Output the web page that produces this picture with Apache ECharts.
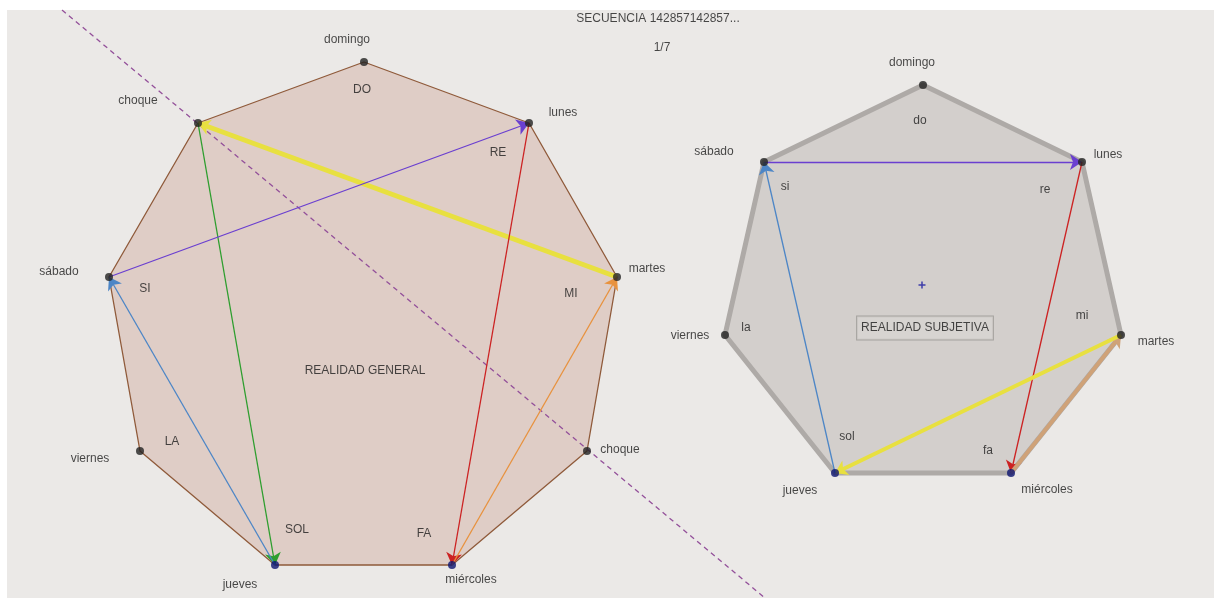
<!DOCTYPE html>
<html>
<head>
<meta charset="utf-8">
<script src="https://cdn.jsdelivr.net/npm/echarts@6/dist/echarts.min.js"></script>
<style>
html,body{margin:0;padding:0;background:#ffffff;}
#c{width:1214px;height:598px;}
</style>
</head>
<body>
<div id="c"></div>
<script>
// ---- Data (diagram coordinates) ----
const titleText = "SECUENCIA 142857142857...";
const fractionText = "1/7";

// Left nonagon "REALIDAD GENERAL": [x, y, vertex label]
const generalVerts = [
  [364, 62, "domingo"],
  [529, 123, "lunes"],
  [617, 277, "martes"],
  [587, 451, "choque"],
  [452, 565, "miércoles"],
  [275, 565, "jueves"],
  [140, 451, "viernes"],
  [109, 277, "sábado"],
  [198, 123, "choque"]
];
const generalVertLabels = [
  [347, 40, "domingo"], [563, 113, "lunes"], [647, 269, "martes"],
  [620, 450, "choque"], [471, 580, "miércoles"], [240, 585, "jueves"],
  [90, 459, "viernes"], [59, 272, "sábado"], [138, 101, "choque"]
];
const generalNotes = [
  [362, 90, "DO"], [498, 153, "RE"], [571, 294, "MI"], [424, 534, "FA"],
  [297, 530, "SOL"], [172, 442, "LA"], [145, 289, "SI"], [365, 371, "REALIDAD GENERAL"]
];
// Arrows: [fromIndex, toIndex, colour key]
const generalArrows = [
  [2, 8, "yellow"], [8, 5, "green"], [5, 7, "blue"],
  [7, 1, "purple"], [1, 4, "red"], [4, 2, "orange"]
];
// Symmetry axis through both "choque" points (dashed)
const axisLine = [[62, 10], [765, 598]];

// Right heptagon "REALIDAD SUBJETIVA"
const subjVerts = [
  [923, 85, "domingo"],
  [1082, 162, "lunes"],
  [1121, 335, "martes"],
  [1011, 473, "miércoles"],
  [835, 473, "jueves"],
  [725, 335, "viernes"],
  [764, 162, "sábado"]
];
const subjVertLabels = [
  [912, 63, "domingo"], [1108, 155, "lunes"], [1156, 342, "martes"],
  [1047, 490, "miércoles"], [800, 491, "jueves"], [690, 336, "viernes"], [714, 152, "sábado"]
];
const subjNotes = [
  [920, 121, "do"], [1045, 190, "re"], [1082, 316, "mi"], [988, 451, "fa"],
  [847, 437, "sol"], [746, 328, "la"], [785, 187, "si"]
];
const subjTitle = [925, 328, "REALIDAD SUBJETIVA"];
const subjCenter = [922, 285];
const subjArrows = [
  [6, 1, "purple"], [1, 3, "red"], [3, 2, "orange"], [2, 4, "yellow"], [4, 6, "blue"]
];
const blueDots = ["jueves", "miércoles"];

// ---- Styles ----
const COL = {
  yellow: "#e8e040", green: "#2e9e2e", blue: "#4d86c6", purple: "#6a3fd0",
  red: "#cc2222", orange: "#e8923e"
};
const FONT = "Liberation Sans, Arial, sans-serif";

function arrowData(verts, arrows, widths, colorsOverride) {
  return arrows.map(a => ({
    coords: [[verts[a[0]][0], verts[a[0]][1]], [verts[a[1]][0], verts[a[1]][1]]],
    lineStyle: { color: (colorsOverride && colorsOverride[a[2]]) || COL[a[2]], width: widths[a[2]] || 1.3, opacity: 1 }
  }));
}
function polySeries(verts, fill, stroke, lw) {
  return {
    type: 'custom', coordinateSystem: 'cartesian2d', silent: true, z: 1,
    data: verts.map(v => [v[0], v[1]]),
    renderItem: function (params, api) {
      if (params.dataIndex !== 0) return null;
      const pts = verts.map(v => api.coord([v[0], v[1]]));
      return { type: 'polygon', shape: { points: pts },
        style: { fill: fill, stroke: stroke, lineWidth: lw, lineJoin: 'round' } };
    }
  };
}
function textSeries(items, fontSize, z) {
  return {
    type: 'scatter', symbolSize: 0, silent: true, z: z || 5,
    data: items.map(t => ({ value: [t[0], t[1]], name: t[2] })),
    label: { show: true, position: 'inside', formatter: p => p.name,
      color: '#1c1c1c', textBorderWidth: 0, fontSize: fontSize || 12, fontFamily: FONT }
  };
}
function dotSeries(verts) {
  return {
    type: 'scatter', silent: true, z: 6, symbolSize: 8,
    data: verts.map(v => ({ value: [v[0], v[1]], name: v[2],
      itemStyle: { color: blueDots.indexOf(v[2]) >= 0 ? '#0d1470' : '#222222' } }))
  };
}

const chart = echarts.init(document.getElementById('c'), null, { renderer: 'canvas' });
chart.setOption({
  animation: false,
  backgroundColor: '#ffffff',
  grid: { left: 7, top: 10, right: 0, bottom: 0, show: true, backgroundColor: '#ebe9e7', borderWidth: 0 },
  xAxis: { type: 'value', min: 7, max: 1214, show: false },
  yAxis: { type: 'value', min: 10, max: 598, inverse: true, show: false },
  series: [
    polySeries(generalVerts, '#dfcdc6', '#8f5a3a', 1.3),
    polySeries(subjVerts, '#d3cfcc', '#aeaaa7', 5),
    {
      type: 'line', silent: true, z: 3, symbol: 'none', data: axisLine,
      lineStyle: { color: '#93509a', width: 1.3, type: [5, 4] }
    },
    {
      type: 'lines', coordinateSystem: 'cartesian2d', silent: true, z: 4,
      symbol: ['none', 'arrow'], symbolSize: 12,
      data: arrowData(generalVerts, generalArrows, { yellow: 5 })
    },
    {
      type: 'lines', coordinateSystem: 'cartesian2d', silent: true, z: 4,
      symbol: ['none', 'arrow'], symbolSize: 12,
      data: arrowData(subjVerts, subjArrows, { yellow: 4, orange: 4 }, { orange: '#cfa278' })
    },
    {
      type: 'scatter', silent: true, z: 5, symbol: 'path://M0,4L8,4M4,0L4,8', symbolSize: 7,
      itemStyle: { color: 'none', borderColor: '#1a1aa0', borderWidth: 1.5 },
      data: [subjCenter]
    },
    dotSeries(generalVerts),
    dotSeries(subjVerts),
    textSeries(generalVertLabels, 12),
    textSeries(generalNotes, 12),
    textSeries(subjVertLabels, 12),
    textSeries(subjNotes, 12),
    {
      type: 'scatter', symbolSize: 0, silent: true, z: 5,
      data: [{ value: [subjTitle[0], subjTitle[1]], name: subjTitle[2] }],
      label: { show: true, position: 'inside', formatter: p => p.name, color: '#1c1c1c',
        textBorderWidth: 0, fontSize: 12, fontFamily: FONT, backgroundColor: '#d8d5d2',
        borderColor: '#9a9794', borderWidth: 1, padding: [6, 4, 5, 4] }
    },
    textSeries([[658, 19, titleText], [662, 48, fractionText]], 12)
  ]
});
</script>
</body>
</html>
